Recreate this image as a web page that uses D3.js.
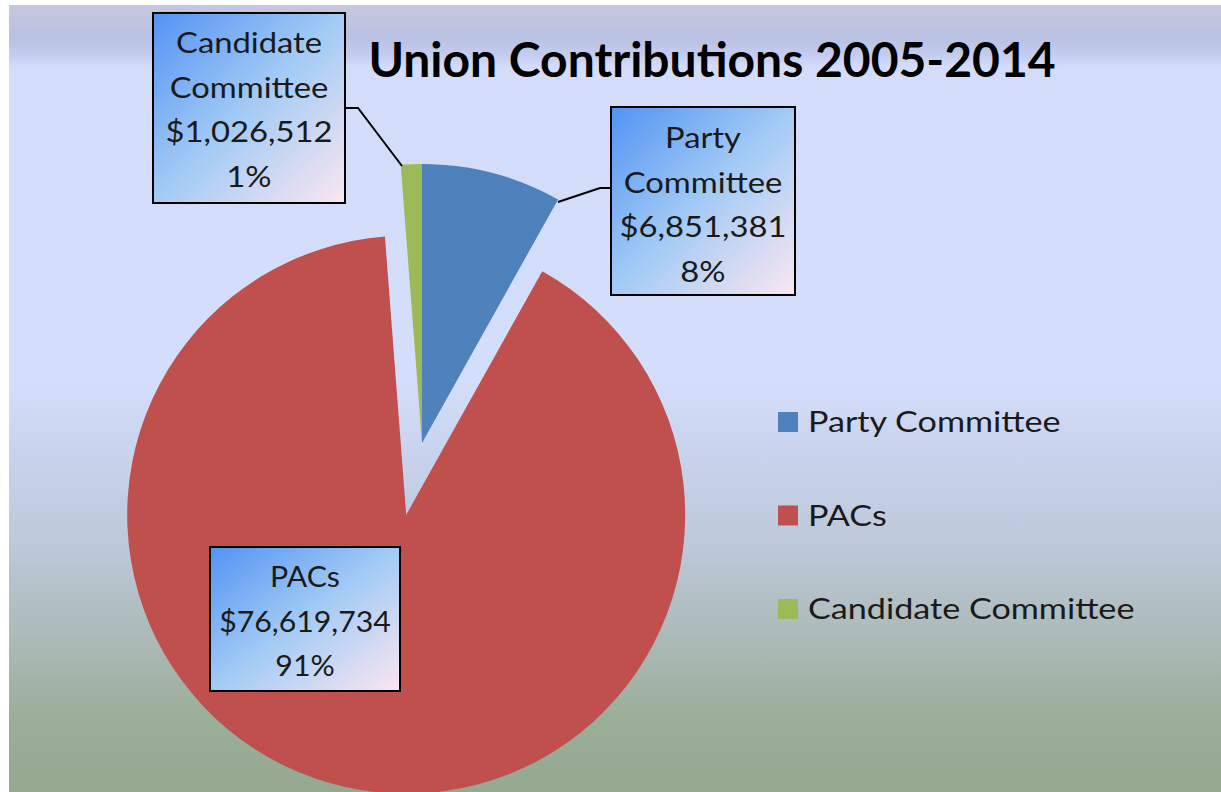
<!DOCTYPE html>
<html><head><meta charset="utf-8">
<script src="https://cdn.jsdelivr.net/npm/d3@7"></script>
<style>html,body{margin:0;padding:0;background:#fff;}svg{display:block;}</style>
</head><body>
<svg id="c" width="1221" height="792"></svg>
<script>
const title = "Union Contributions 2005-2014";
const categories = ["Party Committee", "PACs", "Candidate Committee"];
const values = [6851381, 76619734, 1026512];
const colors = ["#4f81bd", "#c0504d", "#9bbb59"];
const explode = [0, 73.5, 0];

const W = 1221, H = 792;
const FONT = "Lato, 'Open Sans', sans-serif";
const svg = d3.select("#c");
const defs = svg.append("defs");

const bg = defs.append("linearGradient").attr("id","bg").attr("x1",0).attr("y1",0).attr("x2",0).attr("y2",1);
[[0,"#c6c7df"],[0.04,"#b9c1e2"],[0.064,"#c4ccef"],[0.078,"#d3dcf9"],[0.476,"#d4ddfa"],[0.565,"#cad3ed"],[0.692,"#bcc8d8"],[0.82,"#a9b8b2"],[0.908,"#9bae98"],[1,"#95a991"]]
  .forEach(s => bg.append("stop").attr("offset",s[0]).attr("stop-color",s[1]));
const lg = defs.append("linearGradient").attr("id","lbl").attr("x1",0).attr("y1",0).attr("x2",1).attr("y2",1);
[[0,"#5393f4"],[0.5,"#a3cbf5"],[1,"#fbe6f0"]].forEach(s => lg.append("stop").attr("offset",s[0]).attr("stop-color",s[1]));

svg.append("rect").attr("x",9).attr("y",5).attr("width",W-9).attr("height",H-5).attr("fill","url(#bg)");

svg.append("text").attr("x",712).attr("y",77).attr("text-anchor","middle")
  .attr("font-family",FONT).attr("font-weight","bold").attr("font-size",48)
  .attr("fill","#000").text(title);

const cx = 422, cy = 443, R = 279;
const total = d3.sum(values);
const pie = d3.pie().sort(null).value(d => d)(values);
const arc = d3.arc().innerRadius(0).outerRadius(R);
const g = svg.append("g").attr("transform",`translate(${cx},${cy})`);
g.selectAll("path").data(pie).join("path")
  .attr("d", arc)
  .attr("fill", (d,i) => colors[i])
  .attr("transform", (d,i) => {
    const a = (d.startAngle + d.endAngle)/2;
    return `translate(${explode[i]*Math.sin(a)},${-explode[i]*Math.cos(a)})`;
  });

const fmt = d3.format("$,");
const pct = v => Math.round(v/total*100) + "%";

// leader lines
const lines = [
  [[345,108],[358,108],[402,166]],
  [[611,188],[600,188],[558,202]]
];
svg.selectAll("polyline.lead").data(lines).join("polyline").attr("class","lead")
  .attr("points", d => d.map(p => p.join(",")).join(" "))
  .attr("fill","none").attr("stroke","#000").attr("stroke-width",2);

function stext(parent, x, y, s, anchor, sx) {
  return parent.append("text").attr("transform",`translate(${x},${y}) scale(${sx},1)`)
    .attr("text-anchor",anchor).attr("font-family",FONT).attr("font-size",28)
    .attr("fill","#1a1a1a").text(s);
}

const boxes = [
  {i:0, x:611, y:107, w:184, h:188, lines:["Party","Committee"], base:148, sx:1.17},
  {i:1, x:210, y:547, w:190, h:144, lines:["PACs"], base:587, sx:1.08},
  {i:2, x:153, y:13, w:192, h:190, lines:["Candidate","Committee"], base:53, sx:1.17}
];
boxes.forEach(b => {
  svg.append("rect").attr("x",b.x).attr("y",b.y).attr("width",b.w).attr("height",b.h)
    .attr("fill","url(#lbl)").attr("stroke","#000").attr("stroke-width",2);
  const txt = b.lines.concat([fmt(values[b.i]), pct(values[b.i])]);
  txt.forEach((s,k) => stext(svg, b.x + b.w/2, b.base + k*44.5, s, "middle", b.sx));
});

// legend
const leg = svg.append("g");
categories.forEach((c,i) => {
  const y = 412 + i*93.5;
  leg.append("rect").attr("x",778).attr("y",y).attr("width",20).attr("height",20).attr("fill",colors[i]);
  stext(leg, 808, y+20, c, "start", 1.22);
});
</script>
</body></html>
